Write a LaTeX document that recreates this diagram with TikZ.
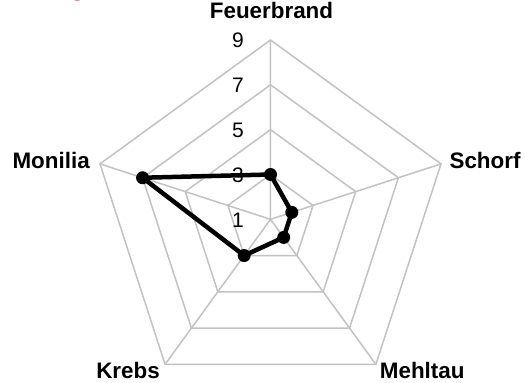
\documentclass[tikz,border=0pt]{standalone}
\usepackage{fontspec}
\setmainfont{Liberation Sans}
\usetikzlibrary{calc,positioning}

\begin{document}
\begin{tikzpicture}[
            x=1pt, y=1pt,
            axislabel/.style={font=\fontsize{22.4}{26}\selectfont\bfseries},
            ticklabel/.style={font=\fontsize{21}{25}\selectfont},
            gridline/.style={draw=gridgray,line width=1.5pt},
            datapoint/.style={circle,fill=black,inner sep=0pt,minimum size=13pt}
        ]
            \colorlet{gridgray}{black!24}
            \definecolor{titlered}{RGB}{165,25,50}

            \useasboundingbox (-270.5,-163.7) rectangle (254.5,219.3);

            % outer corners
            \coordinate (o)   at (0,0);
            \coordinate (vF)  at (90:179.3);
            \coordinate (vS)  at (18:179.3);
            \coordinate (vMe) at (-54:179.3);
            \coordinate (vK)  at (-126:179.3);
            \coordinate (vMo) at (162:179.3);

            % web
            \draw [gridline] (90:44.8) -- (18:44.8) -- (-54:44.8) -- (-126:44.8) -- (162:44.8) -- cycle;
            \draw [gridline] (90:89.6) -- (18:89.6) -- (-54:89.6) -- (-126:89.6) -- (162:89.6) -- cycle;
            \draw [gridline] (90:134.5) -- (18:134.5) -- (-54:134.5) -- (-126:134.5) -- (162:134.5) -- cycle;
            \draw [gridline] (vF) -- (vS) -- (vMe) -- (vK) -- (vMo) -- cycle;
            \draw [gridline] (o) -- (vF) (o) -- (vS) (o) -- (vMe) (o) -- (vK) (o) -- (vMo);

            \node (t1) [ticklabel] at (-32.5,-0.5)  {1};
            \node (t3) [ticklabel] at (-32.5,44.3)  {3};
            \node (t5) [ticklabel] at (-32.5,89.1)  {5};
            \node (t7) [ticklabel] at (-32.5,134)   {7};
            \node (t9) [ticklabel] at (-32.5,178.8) {9};

            \node (lF)  [axislabel,anchor=base]      at ($(vF)+(1,21)$)         {Feuerbrand};
            \node (lS)  [axislabel,anchor=base west] at ($(vS)+(5,-4.8)$)       {Schorf};
            \node (lMe) [axislabel,anchor=base west] at ($(vMe)+(0.5,-14)$)     {Mehltau};
            \node (lK)  [axislabel,anchor=base east] at ($(vK)+(-1.8,-14)$)     {Krebs};
            \node (lMo) [axislabel,anchor=base east] at ($(vMo)+(-6.7,-4.4)$)   {Monilia};

            \node (ttl) [font=\fontsize{26}{30}\selectfont\bfseries,text=titlered,anchor=base] at (-193,224) {g};

            \node (dF)  [datapoint] at (90:44.8)   {};
            \node (dS)  [datapoint] at (18:22.4)   {};
            \node (dMe) [datapoint] at (-54:22.4)  {};
            \node (dK)  [datapoint] at (-126:44.8) {};
            \node (dMo) [datapoint] at (162:134.5) {};
            \draw [line width=4.5pt,line join=round] (dF.center) -- (dS.center) -- (dMe.center) -- (dK.center) -- (dMo.center) -- cycle;
        \end{tikzpicture}
\end{document}
